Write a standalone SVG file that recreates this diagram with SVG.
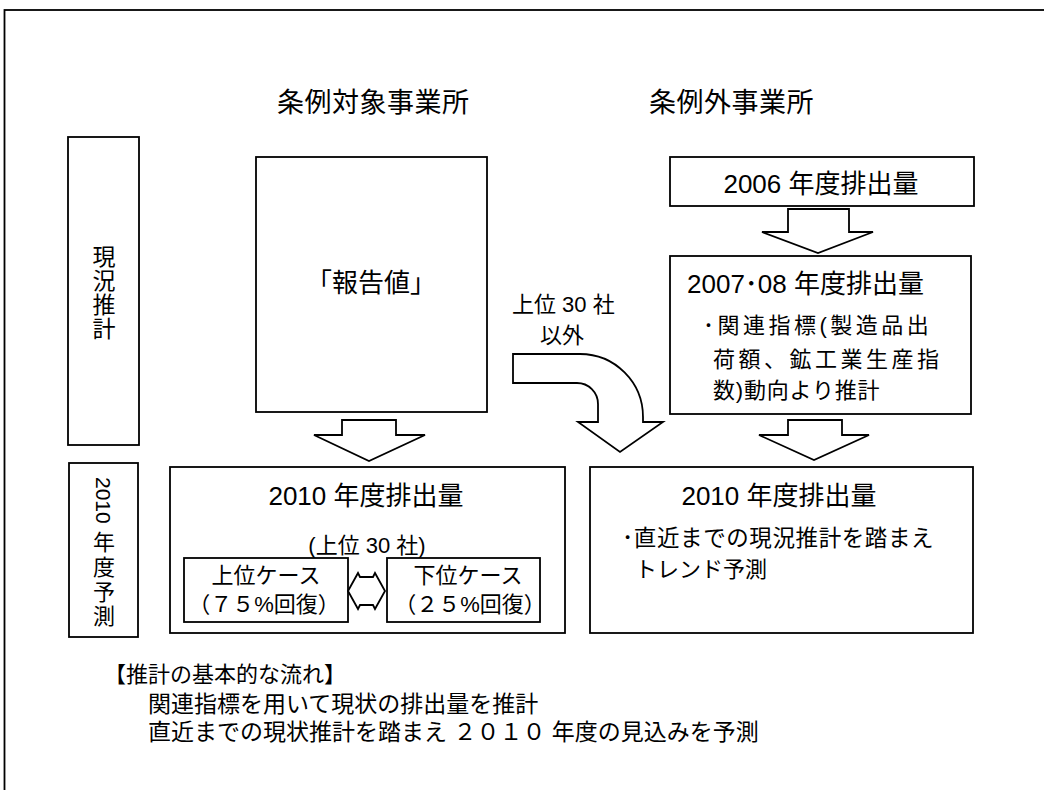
<svg xmlns="http://www.w3.org/2000/svg" width="1044" height="790" viewBox="0 0 1044 790">
<style>
.bg{fill:#fff}
.frame{fill:none;stroke:#000;stroke-width:1.8}
.box{fill:#fff;stroke:#000;stroke-width:1.8}
.arr{fill:#fff;stroke:#000;stroke-width:1.8;stroke-linejoin:miter}
.t{font-family:"Liberation Sans","Noto Sans CJK JP",sans-serif;fill:#000}
.h{font-size:27px;letter-spacing:0.5px}
.ti{font-size:26px}
.b{font-size:22px}
.m{text-anchor:middle}
</style>
<rect class="bg" x="0" y="0" width="1044" height="790"/>
<rect class="frame" x="4.5" y="10" width="1100" height="820"/>

<g id="header-left"><text class="t h" x="277" y="112">条例対象事業所</text></g>
<g id="header-right"><text class="t h" x="649" y="112">条例外事業所</text></g>

<g id="label-genkyo">
<rect class="box" x="68" y="137" width="71" height="308"/>
<text class="t m" style="font-size:23px" x="104" y="265">現</text>
<text class="t m" style="font-size:23px" x="104" y="289">況</text>
<text class="t m" style="font-size:23px" x="104" y="313">推</text>
<text class="t m" style="font-size:23px" x="104" y="337">計</text>
</g>

<g id="label-yosoku">
<rect class="box" x="69" y="463" width="69" height="174"/>
<text class="t" style="font-size:21px" transform="translate(103.5,477) rotate(90)" x="0" y="7.5">2010</text>
<text class="t m b" x="104" y="550">年</text>
<text class="t m b" x="104" y="575">度</text>
<text class="t m b" x="104" y="600">予</text>
<text class="t m b" x="104" y="624">測</text>
</g>

<g id="node-hokokuchi">
<rect class="box" x="256" y="157" width="231" height="255"/>
<text class="t ti m" x="371" y="292">「報告値」</text>
</g>

<g id="node-2006">
<rect class="box" x="670" y="157" width="304" height="49"/>
<text class="t ti m" x="821" y="193">2006 年度排出量</text>
</g>

<g id="node-2007">
<rect class="box" x="670" y="256" width="301" height="158"/>
<text class="t ti" x="687" y="293">2007･08 年度排出量</text>
<text class="t b" x="703" y="333" style="letter-spacing:3.5px">･関連指標(製造品出</text>
<text class="t b" x="713" y="367" style="letter-spacing:3.5px">荷額、鉱工業生産指</text>
<text class="t b" x="713" y="398" style="letter-spacing:0.8px">数)動向より推計</text>
</g>

<g id="node-2010-left">
<rect class="box" x="170" y="467" width="395" height="166"/>
<text class="t ti m" x="366" y="505">2010 年度排出量</text>
<text class="t b m" x="367" y="553">(上位 30 社)</text>
</g>

<g id="node-case-upper">
<rect class="box" x="184" y="558" width="164" height="64"/>
<text class="t b m" x="266" y="583">上位ケース</text>
<text class="t b m" x="264" y="612">（７５%回復）</text>
</g>

<g id="node-case-lower">
<rect class="box" x="387" y="558" width="153" height="64"/>
<text class="t b m" x="468" y="583">下位ケース</text>
<text class="t b m" x="470" y="612">（２５%回復）</text>
</g>

<g id="node-2010-right">
<rect class="box" x="590" y="467" width="383" height="166"/>
<text class="t ti m" x="779" y="505">2010 年度排出量</text>
<text class="t b" x="622" y="546" style="font-size:22.5px;letter-spacing:0.6px">･直近までの現況推計を踏まえ</text>
<text class="t b" x="635" y="577">トレンド予測</text>
</g>

<g id="label-top30">
<text class="t b" x="512" y="312">上位 30 社</text>
<text class="t b" x="540" y="343">以外</text>
</g>

<g id="connectors">
<polygon class="arr" points="342,420 396,420 396,435 425,435 369,461 314,435 342,435"/>
<polygon class="arr" points="788,209 849,209 849,232 873,232 818,253 762,232 788,232"/>
<polygon class="arr" points="788,420 842,420 842,435 869,435 814,460 759,435 788,435"/>
<path class="arr" d="M513,354 L580,354 A63,63 0 0 1 643,417 L643,422 L663,422 L620,452 L578,422 L598,422 L598,404 A21,21 0 0 0 577,383 L513,383 Z"/>
<polygon class="arr" points="348,591 358,573 360,577 373,577 375,573 385,591 375,609 373,605 360,605 358,609"/>
</g>

<g id="legend">
<text class="t b" x="104" y="682">【推計の基本的な流れ】</text>
<text class="t" style="font-size:23px" x="148" y="712">関連指標を用いて現状の排出量を推計</text>
<text class="t" style="font-size:23px" x="148" y="740">直近までの現状推計を踏まえ ２０１０ 年度の見込みを予測</text>
</g>
</svg>
